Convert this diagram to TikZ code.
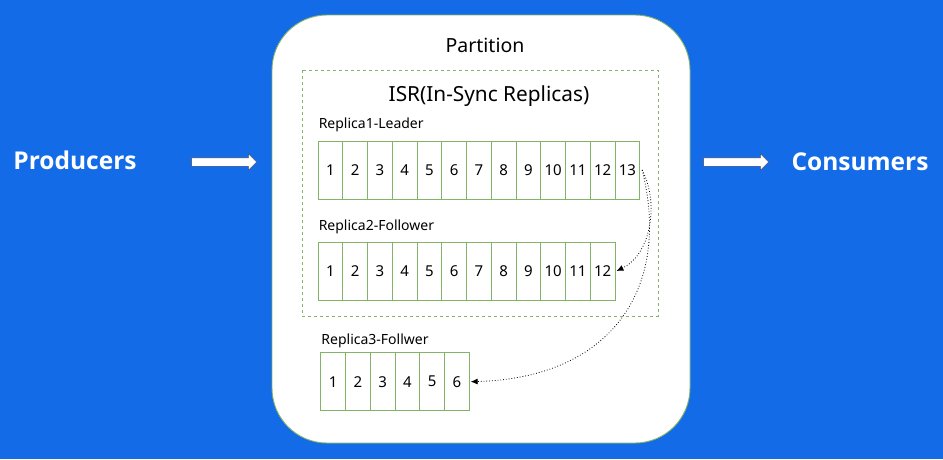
\documentclass[tikz,border=0pt]{standalone}
\usepackage{fontspec}
\setmainfont{Noto Sans}
\newfontfamily\headfont{Open Sans}
\usetikzlibrary{positioning,arrows.meta,shapes.arrows}
\definecolor{bgblue}{HTML}{136BE8}
\definecolor{cellgreen}{HTML}{82B366}
\tikzset{
  cell/.style={draw=cellgreen,line width=0.9pt,fill=white,minimum width=24.75pt,minimum height=58pt,inner sep=0pt,font=\fontsize{15}{17}\selectfont},
  replabel/.style={anchor=south west,inner sep=1pt,font=\fontsize{14}{16}\selectfont},
  flowarrow/.style={single arrow,draw=black!70,fill=white,line width=0.4pt,minimum height=65pt,inner xsep=0pt,inner ysep=4pt,single arrow head extend=4pt},
  sync/.style={->,dotted,line width=0.8pt,>={Latex[length=7pt,width=6pt]}},
  endlabel/.style={text=white,font=\headfont\bfseries\fontsize{24.5}{26}\selectfont}
}
\begin{document}
\begin{tikzpicture}[x=1pt,y=-1pt]
  \fill[bgblue] (0,0) rectangle (943,459);
  \useasboundingbox (0,0) rectangle (943,459);
  % partition and ISR frames
  \draw[cellgreen,fill=white,line width=0.9pt,rounded corners=55pt] (272,15) rectangle (690,443);
  \draw[cellgreen,dashed,line width=0.8pt] (302,70) rectangle (658,316);
  \node[font=\fontsize{19.5}{21}\selectfont] (part) at (485,45) {Partition};
  \node[font=\fontsize{20.8}{22}\selectfont] (isr) at (489,96) {ISR(In-Sync Replicas)};
  % replicas
  \foreach \i in {1,...,13} \node[cell] (a\i) at (318+24.75*\i-12.375,170) {\i};
  \foreach \i in {1,...,12} \node[cell] (b\i) at (318+24.75*\i-12.375,271) {\i};
  \foreach \i in {1,...,6} \node[cell] (c\i) at (320.7+24.75*\i-12.375,381.7) {\i};
  \node[replabel] (la) at ([yshift=7pt]a1.north west) {Replica1-Leader};
  \node[replabel] (lb) at ([yshift=6pt]b1.north west) {Replica2-Follower};
  \node[replabel] (lc) at ([yshift=3pt]c1.north west) {Replica3-Follwer};
  % sync arrows
  \draw[sync] ([xshift=2pt]a13.east) .. controls (660,205) and (650,255) .. ([xshift=1pt]b12.east);
  \draw[sync] ([xshift=2pt]a13.east) .. controls (672,290) and (610,378) .. ([xshift=1pt]c6.east);
  % producers and consumers
  \node[endlabel] (prod) at (75,160) {Producers};
  \node[endlabel] (cons) at (860,162) {Consumers};
  \node[flowarrow] (pin) at (222,162) {};
  \node[flowarrow] (pout) at (734,162) {};
\end{tikzpicture}
\end{document}
